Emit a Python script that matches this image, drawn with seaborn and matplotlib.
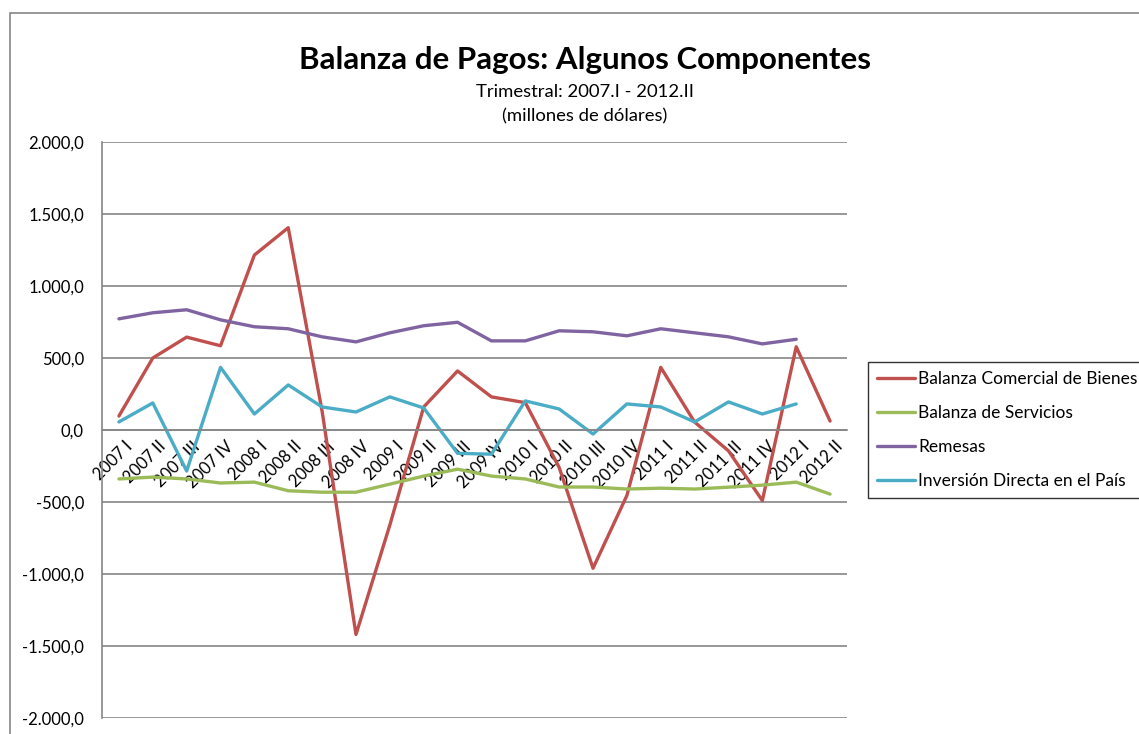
import matplotlib
matplotlib.use("Agg")
import matplotlib.pyplot as plt
from matplotlib.patches import Rectangle
from matplotlib.ticker import FuncFormatter, MultipleLocator
import numpy as np
import pandas as pd
import seaborn as sns

# Quarters 2007.I - 2012.II
quarters = ["2007 I", "2007 II", "2007 III", "2007 IV",
            "2008 I", "2008 II", "2008 III", "2008 IV",
            "2009 I", "2009 II", "2009 III", "2009 IV",
            "2010 I", "2010 II", "2010 III", "2010 IV",
            "2011 I", "2011 II", "2011 III", "2011 IV",
            "2012 I", "2012 II"]

comercial = [97, 500, 645, 585, 1215, 1405, 130, -1420,
             -660, 160, 410, 230, 190, -260, -960, -455,
             435, 55, -145, -490, 578, 62]
servicios = [-340, -327, -340, -368, -362, -422, -432, -432,
             -376, -320, -272, -320, -340, -396, -396, -410,
             -404, -410, -397, -383, -362, -445]
remesas = [772, 814, 835, 765, 717, 703, 647, 612,
           675, 724, 748, 619, 619, 689, 682, 654,
           703, 675, 647, 598, 630, np.nan]
inversion = [56, 188, -285, 435, 111, 313, 160, 125,
             230, 153, -162, -168, 202, 146, -28, 181,
             160, 56, 195, 111, 181, np.nan]

series_names = ["Balanza Comercial de Bienes", "Balanza de Servicios",
                "Remesas", "Inversión Directa en el País"]
series_colors = ["#C0504D", "#9BBB59", "#8064A2", "#4BACC6"]

df = pd.DataFrame({
    "Trimestre": quarters * 4,
    "Valor": comercial + servicios + remesas + inversion,
    "Serie": [s for s in series_names for _ in quarters],
})

sns.set_theme(style="white")
plt.rcParams["font.family"] = ["Lato", "DejaVu Sans"]
plt.rcParams["text.color"] = "black"

fig = plt.figure(figsize=(11.39, 7.34), dpi=100)
ax = fig.add_axes([102 / 1139, 1 - 718 / 734, (847 - 102) / 1139, (718 - 142) / 734])

sns.lineplot(data=df, x="Trimestre", y="Valor", hue="Serie", hue_order=series_names,
             palette=series_colors, sort=False, linewidth=2.4, ax=ax)

grid_col = "#868686"
ax.set_ylim(-2000, 2000)
ax.set_xlim(-0.5, len(quarters) - 0.5)
ax.yaxis.set_major_locator(MultipleLocator(500))
ax.yaxis.set_major_formatter(FuncFormatter(
    lambda v, p: f"{v:,.1f}".replace(",", "X").replace(".", ",").replace("X", ".")))
ax.grid(axis="y", color=grid_col, linewidth=1.2)
ax.set_axisbelow(True)
ax.set_xlabel("")
ax.set_ylabel("")

for s in ["top", "right"]:
    ax.spines[s].set_visible(False)
ax.spines["left"].set_color(grid_col)
ax.spines["left"].set_linewidth(1.2)
ax.spines["bottom"].set_position(("data", 0))
ax.spines["bottom"].set_color(grid_col)
ax.spines["bottom"].set_linewidth(1.2)

ax.tick_params(axis="y", length=0, pad=13, labelsize=12, labelcolor="black")
ax.tick_params(axis="x", length=0, pad=6, labelsize=12, labelcolor="black")
ax.set_xticks(range(len(quarters)))
ax.set_xticklabels(quarters, rotation=45, ha="right", va="top", rotation_mode="anchor")
for lbl in ax.get_xticklabels():
    lbl.set_transform(lbl.get_transform() + matplotlib.transforms.ScaledTranslation(5 / 100, 0, fig.dpi_scale_trans))

handles, labels = ax.get_legend_handles_labels()
leg = ax.legend(handles, labels, loc="upper left",
                bbox_to_anchor=(868 / 1139, 1 - 362 / 734), bbox_transform=fig.transFigure,
                frameon=True, fancybox=False, edgecolor="black", fontsize=12.5,
                handlelength=2.2, handletextpad=0.2, labelspacing=1.05,
                borderpad=0.5, borderaxespad=0)
leg.get_frame().set_linewidth(1.0)

fig.text(585 / 1139, 1 - 60 / 734, "Balanza de Pagos: Algunos Componentes",
         ha="center", va="center", fontsize=22.5, fontweight="bold", color="black")
fig.text(585 / 1139, 1 - 92 / 734, "Trimestral: 2007.I - 2012.II",
         ha="center", va="center", fontsize=13.3, color="black")
fig.text(585 / 1139, 1 - 116 / 734, "(millones de dólares)",
         ha="center", va="center", fontsize=13.3, color="black")

fig.patches.append(Rectangle((10 / 1139, -0.1), 1.2, 1.1 - 13 / 734, fill=False,
                             edgecolor=grid_col, linewidth=1.2, transform=fig.transFigure))

fig.savefig("out.png", dpi=100)
